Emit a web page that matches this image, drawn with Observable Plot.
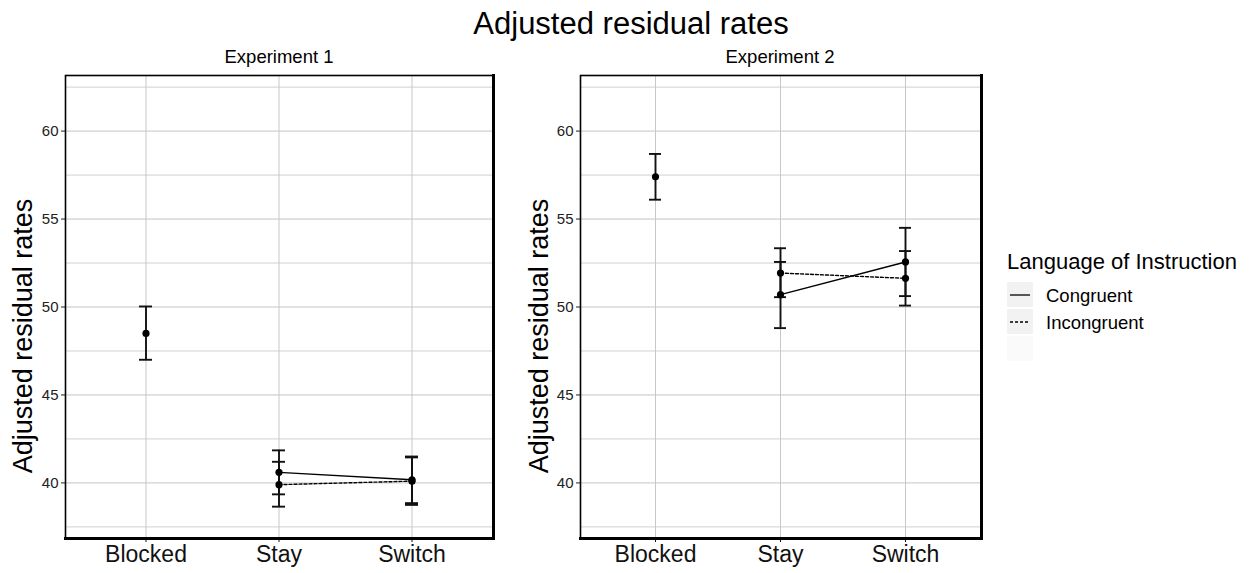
<!DOCTYPE html>
<html>
<head>
<meta charset="utf-8">
<script src="https://cdn.jsdelivr.net/npm/d3@7"></script>
<script src="https://cdn.jsdelivr.net/npm/@observablehq/plot@0.6"></script>
<style>
  html, body { margin: 0; padding: 0; background: #fff; }
  body { font-family: "Liberation Sans", Arial, sans-serif; }
  #wrap { position: relative; width: 1249px; height: 573px; overflow: hidden; }
  .abs { position: absolute; white-space: nowrap; line-height: 1; color: #000; }
  .panel { position: absolute; top: 70px; }
  .ytitle { position: absolute; white-space: nowrap; line-height: 1; font-size: 27px; transform: translate(-50%, -50%) rotate(-90deg); }
  .key { position: absolute; width: 26px; height: 25px; background: #f2f2f2; }
</style>
</head>
<body>
<div id="wrap">
  <div class="abs" id="title" style="font-size:31px; left:631px; top:8px; transform:translateX(-50%);">Adjusted residual rates</div>
  <div class="abs" style="font-size:18.5px; left:279px; top:48px; transform:translateX(-50%);">Experiment 1</div>
  <div class="abs" style="font-size:18.5px; left:780px; top:48px; transform:translateX(-50%);">Experiment 2</div>
  <div class="ytitle" style="left:23px; top:336px;">Adjusted residual rates</div>
  <div class="ytitle" style="left:539px; top:336px;">Adjusted residual rates</div>
  <div id="p1" class="panel" style="left:0px;"></div>
  <div id="p2" class="panel" style="left:515px;"></div>
  <div id="legend"></div>
</div>
<script>
// ---- data ----
const conditions = ["Blocked", "Stay", "Switch"];
const languages = ["Congruent", "Incongruent"];
const rowCondition = ["Blocked", "Stay", "Stay", "Switch", "Switch"];
const rowLanguage = ["Blocked", "Congruent", "Incongruent", "Congruent", "Incongruent"];

const exp1Mean  = [48.5, 40.6, 39.9, 40.18, 40.1];
const exp1Lower = [47.0, 39.35, 38.65, 38.85, 38.75];
const exp1Upper = [50.03, 41.85, 41.2, 41.5, 41.45];

const exp2Mean  = [57.4, 50.7, 51.93, 52.56, 51.63];
const exp2Lower = [56.1, 48.8, 50.56, 50.62, 50.08];
const exp2Upper = [58.7, 52.56, 53.34, 54.5, 53.18];

const yDomain = [36.84, 63.16];
const yTicks = [40, 45, 50, 55, 60];
const yMinor = [37.5, 42.5, 47.5, 52.5, 57.5, 62.5];
const legendTitle = "Language of Instruction";

function panel(mean, lower, upper, width, marginRight) {
  const rows = rowCondition.map((c, i) => ({
    condition: c, language: rowLanguage[i], mean: mean[i], lower: lower[i], upper: upper[i]
  }));
  const cong = rows.filter(d => d.language === "Congruent");
  const incong = rows.filter(d => d.language === "Incongruent");
  return Plot.plot({
    width, height: 503,
    marginLeft: 65, marginRight, marginTop: 5, marginBottom: 35,
    style: { fontFamily: '"Liberation Sans", Arial, sans-serif', background: "transparent", overflow: "visible" },
    x: { type: "band", domain: conditions, paddingInner: 0.9, paddingOuter: 0.55, label: null },
    y: { domain: yDomain, label: null },
    marks: [
      Plot.gridY(yMinor, { stroke: "#d0d0d0", strokeOpacity: 1, strokeWidth: 1 }),
      Plot.gridY(yTicks, { stroke: "#c4c4c4", strokeOpacity: 1, strokeWidth: 1 }),
      Plot.gridX(conditions, { stroke: "#c8c8c8", strokeOpacity: 1, strokeWidth: 1 }),
      Plot.line(cong, { x: "condition", y: "mean", stroke: "#000", strokeWidth: 1.4 }),
      Plot.line(incong, { x: "condition", y: "mean", stroke: "#000", strokeWidth: 1.4, strokeDasharray: "3,2" }),
      Plot.ruleX(rows, { x: "condition", y1: "lower", y2: "upper", stroke: "#111", strokeWidth: 1.9 }),
      Plot.tickY(rows, { x: "condition", y: "lower", stroke: "#111", strokeWidth: 1.9 }),
      Plot.tickY(rows, { x: "condition", y: "upper", stroke: "#111", strokeWidth: 1.9 }),
      Plot.dot(rows, { x: "condition", y: "mean", r: 3.6, fill: "#000", stroke: "none" }),
      Plot.axisY(yTicks, { tickSize: 4, tickPadding: 3, fontSize: 15, label: null, color: "#222" }),
      Plot.axisX({ tickSize: 4, tickPadding: 3, fontSize: 23, label: null, color: "#111" }),
      Plot.frame({ stroke: "#000", strokeWidth: 1.6 }),
      Plot.frame({ anchor: "right", stroke: "#000", strokeWidth: 3 }),
      Plot.frame({ anchor: "bottom", stroke: "#000", strokeWidth: 3 })
    ]
  });
}

document.getElementById("p1").appendChild(panel(exp1Mean, exp1Lower, exp1Upper, 500, 7));
document.getElementById("p2").appendChild(panel(exp2Mean, exp2Lower, exp2Upper, 470, 4));

// ---- legend ----
const lg = document.getElementById("legend");
lg.innerHTML = `
  <div class="abs" style="font-size:22px; left:1007px; top:251px;">${legendTitle}</div>
  <div class="key" style="left:1007px; top:282px;"></div>
  <div class="key" style="left:1007px; top:309px;"></div>
  <div class="key" style="left:1007px; top:336px; background:#fafafa;"></div>
  <svg style="position:absolute; left:1007px; top:282px;" width="26" height="52">
    <line x1="3" x2="23" y1="13" y2="13" stroke="#000" stroke-width="1.3"></line>
    <line x1="3" x2="23" y1="40" y2="40" stroke="#000" stroke-width="1.3" stroke-dasharray="3,2"></line>
  </svg>
  <div class="abs" style="font-size:18.5px; left:1046px; top:287px;">${languages[0]}</div>
  <div class="abs" style="font-size:18.5px; left:1046px; top:314px;">${languages[1]}</div>
`;
</script>
</body>
</html>
